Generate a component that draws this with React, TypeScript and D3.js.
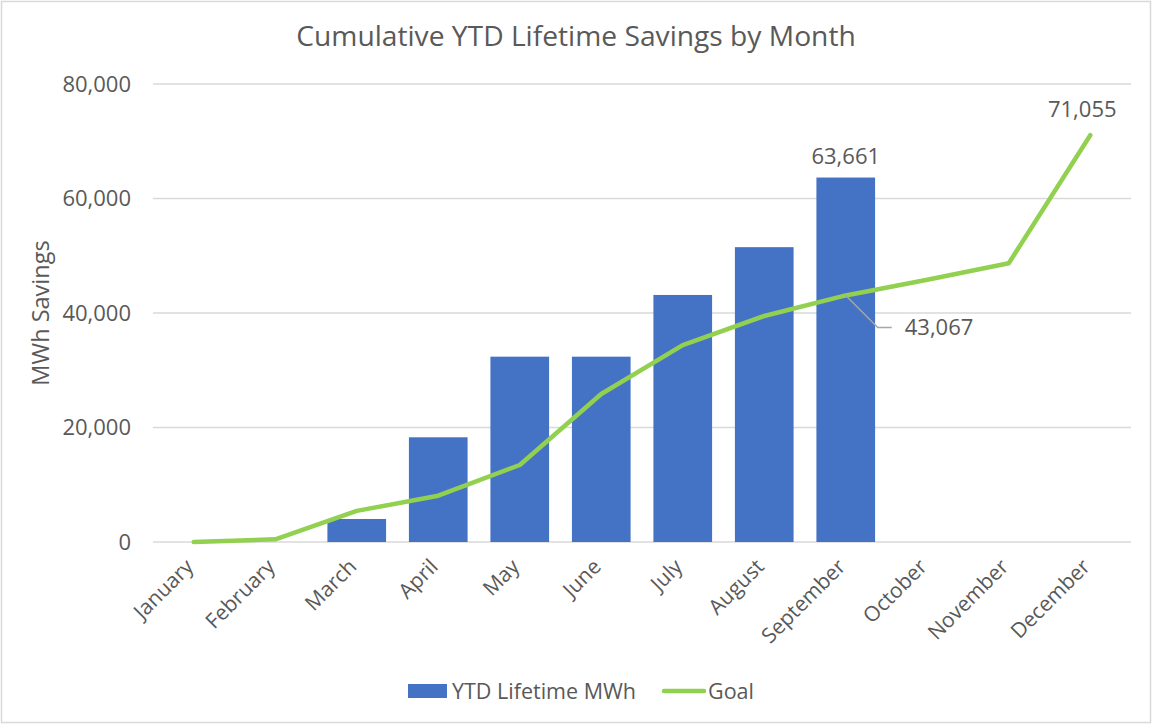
import React, { useEffect } from "react";
import * as d3 from "d3";

const months = ["January","February","March","April","May","June","July","August","September","October","November","December"];
const ytdValues: (number | null)[] = [null, null, 4020, 18290, 32370, 32370, 43150, 51500, 63661, null, null, null];
const goalValues = [0, 470, 5430, 8090, 13450, 25850, 34400, 39480, 43067, 45800, 48680, 71055];
const yTicks = [0, 20000, 40000, 60000, 80000];

const W = 1152, H = 724;
const FONT = "'Open Sans', sans-serif";
const TXT = "#595959";

export default function App() {
  useEffect(() => { document.body.style.margin = "0"; }, []);
  const x = d3.scaleBand<string>().domain(months).range([153, 1131]).paddingInner(0.28).paddingOuter(0.14);
  const y = d3.scaleLinear().domain([0, 80000]).range([542, 84]);
  const cx = (m: string) => (x(m) as number) + x.bandwidth() / 2;
  const fmt = d3.format(",");
  const line = d3.line<number>().x((_, i) => cx(months[i])).y(d => y(d));

  const sepX = cx("September");
  const sepGoalY = y(goalValues[8]);
  const decX = cx("December");

  return (
    <svg width={W} height={H} style={{ display: "block", fontFamily: FONT }}>
      <rect x={0} y={0} width={W} height={H} fill="#fff" />
      <rect x={1.5} y={1.5} width={W - 3} height={H - 3} fill="none" stroke="#d9d9d9" strokeWidth={1.5} />
      <text x={576} y={46} textAnchor="middle" fontSize={28.2} fill={TXT}>Cumulative YTD Lifetime Savings by Month</text>
      {yTicks.map(t => (
        <g key={t}>
          <line x1={153} x2={1131} y1={y(t)} y2={y(t)} stroke="#d9d9d9" strokeWidth={1.5} />
          <text x={131} y={y(t)} dy="0.35em" textAnchor="end" fontSize={22} fill={TXT}>{fmt(t)}</text>
        </g>
      ))}
      <text transform={`translate(49,313) rotate(-90)`} textAnchor="middle" fontSize={23.5} fill={TXT}>MWh Savings</text>
      {months.map((m, i) => ytdValues[i] == null ? null : (
        <rect key={m} x={x(m)} y={y(ytdValues[i] as number)} width={x.bandwidth()} height={y(0) - y(ytdValues[i] as number)} fill="#4472C4" />
      ))}
      <path d={line(goalValues) || ""} fill="none" stroke="#92D050" strokeWidth={4.5} strokeLinejoin="round" strokeLinecap="round" />
      {months.map(m => (
        <text key={m} transform={`translate(${cx(m) + 1},${568}) rotate(-45)`} textAnchor="end" fontSize={21} fill={TXT}>{m}</text>
      ))}
      <text x={sepX} y={y(ytdValues[8] as number) - 14} textAnchor="middle" fontSize={22} fill={TXT}>{fmt(ytdValues[8] as number)}</text>
      <text x={decX - 8} y={y(goalValues[11]) - 18} textAnchor="middle" fontSize={22} fill={TXT}>{fmt(goalValues[11])}</text>
      <polyline points={`${sepX},${sepGoalY} ${sepX + 32},${sepGoalY + 32} ${sepX + 46},${sepGoalY + 32}`} fill="none" stroke="#a6a6a6" strokeWidth={1.5} />
      <text x={sepX + 59} y={sepGoalY + 32} dy="0.35em" fontSize={22} fill={TXT}>{fmt(goalValues[8])}</text>
      <rect x={408} y={684} width={39} height={14} fill="#4472C4" />
      <text x={452} y={691} dy="0.35em" fontSize={21.5} fill={TXT}>YTD Lifetime MWh</text>
      <line x1={664} x2={704} y1={691} y2={691} stroke="#92D050" strokeWidth={4.5} strokeLinecap="round" />
      <text x={708} y={691} dy="0.35em" fontSize={21.5} fill={TXT}>Goal</text>
    </svg>
  );
}
